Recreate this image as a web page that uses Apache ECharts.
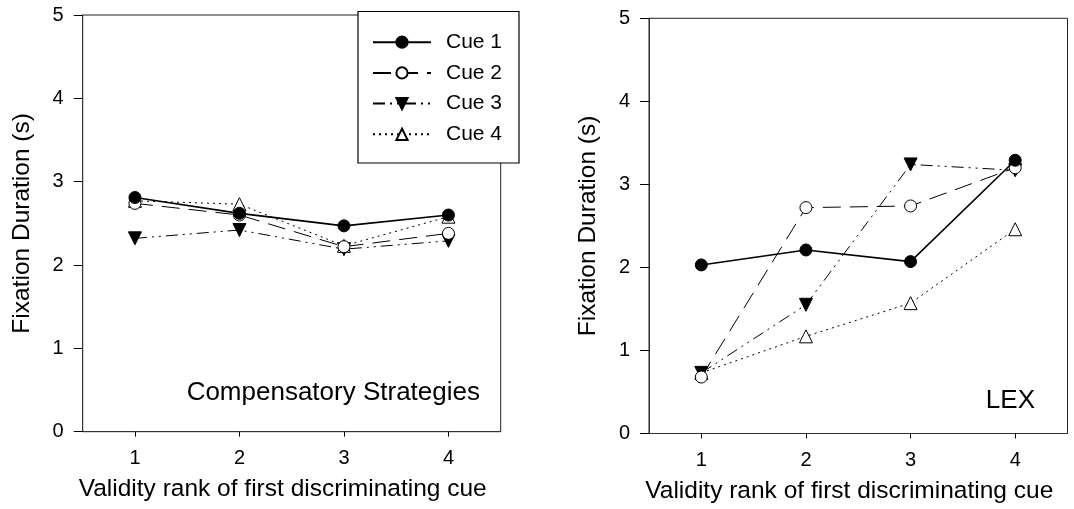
<!DOCTYPE html>
<html>
<head>
<meta charset="utf-8">
<script src="https://cdn.jsdelivr.net/npm/echarts@6/dist/echarts.min.js"></script>
<style>
html,body{margin:0;padding:0;background:#fff;}
#chart{width:1074px;height:509px;}
</style>
</head>
<body>
<div id="chart"></div>
<script>
// ---- data ----
const categories = ['1', '2', '3', '4'];
const seriesNames = ['Cue 1', 'Cue 2', 'Cue 3', 'Cue 4'];
const yTicks = [0, 1, 2, 3, 4, 5];
// Compensatory strategies panel
const compCue1 = [2.81, 2.62, 2.47, 2.60];
const compCue2 = [2.74, 2.60, 2.22, 2.38];
const compCue3 = [2.32, 2.42, 2.19, 2.29];
const compCue4 = [2.77, 2.73, 2.23, 2.58];
// LEX panel
const lexCue1 = [2.03, 2.21, 2.07, 3.29];
const lexCue2 = [0.68, 2.72, 2.74, 3.20];
const lexCue3 = [0.73, 1.55, 3.24, 3.17];
const lexCue4 = [0.73, 1.17, 1.57, 2.46];
const panelLabels = ['Compensatory Strategies', 'LEX'];
const xTitle = 'Validity rank of first discriminating cue';
const yTitle = 'Fixation Duration (s)';

const FONT = '"Liberation Sans", Arial, Helvetica, sans-serif';

const styles = [
  {symbol: 'circle', symbolSize: 12, symbolRotate: 0, item: {color: '#000', borderColor: '#000', borderWidth: 1}, line: {color: '#000', width: 1.6, type: 'solid'}},
  {symbol: 'circle', symbolSize: 12, symbolRotate: 0, item: {color: '#fff', borderColor: '#000', borderWidth: 1}, line: {color: '#000', width: 1, type: [18, 9]}},
  {symbol: 'triangle', symbolSize: 13, symbolRotate: 180, item: {color: '#000', borderColor: '#000', borderWidth: 1}, line: {color: '#000', width: 1, type: [12, 5, 2, 5, 2, 5]}},
  {symbol: 'triangle', symbolSize: 13, symbolRotate: 0, item: {color: '#fff', borderColor: '#000', borderWidth: 1}, line: {color: '#000', width: 1, type: [2, 4]}}
];

function makeSeries(dataArrays, gridIdx) {
  return dataArrays.map((d, i) => ({
    name: seriesNames[i],
    type: 'line',
    xAxisIndex: gridIdx,
    yAxisIndex: gridIdx,
    data: d,
    symbol: styles[i].symbol,
    symbolSize: styles[i].symbolSize,
    symbolRotate: styles[i].symbolRotate,
    showAllSymbol: true,
    itemStyle: styles[i].item,
    lineStyle: styles[i].line,
    emphasis: {disabled: true},
    animation: false,
    z: 2 + (3 - i) * 0.1
  }));
}

const grids = [
  {left: 82.7, top: 15, width: 418, height: 416.7},
  {left: 649, top: 18.3, width: 418.5, height: 415.2}
];

function xAxis(idx) {
  return {
    type: 'category', gridIndex: idx, data: categories, boundaryGap: true,
    axisLine: {show: true, lineStyle: {color: '#333', width: 1}},
    axisTick: {show: true, alignWithLabel: true, inside: false, length: 5, lineStyle: {color: '#000'}},
    axisLabel: {fontSize: 20, color: '#000', fontFamily: FONT, margin: 17},
    splitLine: {show: false},
    name: xTitle, nameLocation: 'middle', nameGap: 45,
    nameTextStyle: {fontSize: 24.5, color: '#000', fontFamily: FONT, padding: [0, 18, 0, 0]}
  };
}
function yAxis(idx) {
  return {
    type: 'value', gridIndex: idx, min: yTicks[0], max: yTicks[yTicks.length - 1], interval: 1,
    axisLine: {show: true, lineStyle: {color: '#333', width: 1}},
    axisTick: {show: true, inside: false, length: 9, lineStyle: {color: '#000'}},
    axisLabel: {fontSize: 20, color: '#000', fontFamily: FONT, margin: 19},
    splitLine: {show: false},
    name: yTitle, nameLocation: 'middle', nameGap: 48, nameRotate: 90,
    nameTextStyle: {fontSize: 24.5, color: '#000', fontFamily: FONT}
  };
}

const chart = echarts.init(document.getElementById('chart'), null, {renderer: 'canvas'});
const option = {
  backgroundColor: '#fff',
  animation: false,
  grid: grids.map(g => Object.assign({show: true, borderColor: '#222', borderWidth: 1, backgroundColor: 'transparent'}, g)),
  xAxis: [xAxis(0), xAxis(1)],
  yAxis: [yAxis(0), yAxis(1)],
  legend: {
    data: seriesNames,
    orient: 'vertical',
    left: 372, top: 31.7,
    padding: 0,
    itemWidth: 58, itemHeight: 14, itemGap: 9.7,
    textStyle: {fontSize: 21, lineHeight: 20, color: '#000', fontFamily: FONT, padding: [0, 0, 0, 10]},
    selectedMode: false,
    z: 6
  },
  graphic: [
    {type: 'rect', z: 5, shape: {x: 358, y: 11.5, width: 161, height: 151.5}, style: {fill: '#fff', stroke: '#000', lineWidth: 1.2}},
    {type: 'text', z: 5, style: {text: panelLabels[0], x: 480, y: 393, textAlign: 'right', textVerticalAlign: 'middle', fontSize: 26, fontFamily: FONT, fill: '#000'}},
    {type: 'text', z: 5, style: {text: panelLabels[1], x: 1035, y: 401, textAlign: 'right', textVerticalAlign: 'middle', fontSize: 26, fontFamily: FONT, fill: '#000'}}
  ],
  series: [
    ...makeSeries([compCue1, compCue2, compCue3, compCue4], 0),
    ...makeSeries([lexCue1, lexCue2, lexCue3, lexCue4], 1)
  ]
};
chart.setOption(option);
</script>
</body>
</html>
